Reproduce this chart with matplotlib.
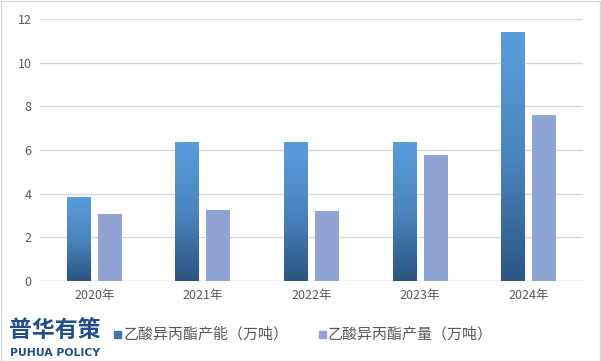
import matplotlib.pyplot as plt
import numpy as np
from matplotlib.colors import LinearSegmentedColormap
from matplotlib.patches import Rectangle

plt.rcParams['font.family'] = ['Noto Sans CJK SC', 'DejaVu Sans']

years = ["2020年", "2021年", "2022年", "2023年", "2024年"]
capacity = [3.85, 6.37, 6.37, 6.37, 11.4]
production = [3.07, 3.25, 3.2, 5.77, 7.6]
label_cap = "乙酸异丙酯产能（万吨）"
label_prod = "乙酸异丙酯产量（万吨）"

grad = LinearSegmentedColormap.from_list("g", ["#2c5580", "#4a86c0", "#5a9ddc"])
c_prod = "#8fa4d2"

fig = plt.figure(figsize=(6.01, 3.61), dpi=100)
ax = fig.add_axes([0.0666, 0.2216, 0.9034, 0.7254])

x = np.arange(len(years))
w = 0.22
off = 0.143
bars = ax.bar(x - off, capacity, w, color="none", zorder=3)
gimg = np.linspace(0, 1, 256).reshape(-1, 1)
for b in bars:
    x0, y0 = b.get_x(), b.get_y()
    im = ax.imshow(gimg, cmap=grad, aspect="auto", origin="lower",
                   extent=[x0, x0 + b.get_width(), y0, y0 + b.get_height()], zorder=3)
    im.set_clip_path(b)
ax.bar(x + off, production, w, color=c_prod, zorder=3)

ax.set_xlim(-0.5, len(years) - 0.5)
ax.set_ylim(0, 12)
ax.set_yticks(range(0, 13, 2))
ax.set_xticks(x)
ax.set_xticklabels(years)
ax.tick_params(length=0, labelsize=9, colors="#595959", pad=6)
ax.yaxis.grid(True, color="#d9d9d9", linewidth=1)
ax.set_axisbelow(True)
for s in ax.spines.values():
    s.set_visible(False)
ax.axhline(0, color="#d9d9d9", linewidth=1, zorder=2)

# legend
fig.patches.append(Rectangle((114 / 601, 1 - 338 / 361), 7 / 601, 7 / 361,
                             transform=fig.transFigure, color="#3f77ad"))
fig.text(124 / 601, 1 - 334 / 361, label_cap, fontsize=10.8, color="#595959", va="center")
fig.patches.append(Rectangle((319 / 601, 1 - 338 / 361), 7 / 601, 7 / 361,
                             transform=fig.transFigure, color=c_prod))
fig.text(328 / 601, 1 - 334 / 361, label_prod, fontsize=10.8, color="#595959", va="center")

# logo
fig.text(9 / 601, 1 - 330 / 361, "普华有策", fontsize=16.5, fontweight="bold",
         color="#1f4e8c", va="center")
fig.text(10 / 601, 1 - 353 / 361, "PUHUA POLICY", fontsize=7.8, fontweight="bold",
         color="#1f4e8c", va="center", family="DejaVu Sans")

fig.patches.append(Rectangle((0.001, 0.001), 0.997, 0.996, transform=fig.transFigure,
                             fill=False, edgecolor="#d9d9d9", linewidth=1))
fig.savefig("out.png", dpi=100)
